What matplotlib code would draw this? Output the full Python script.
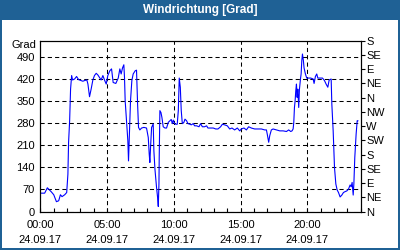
import matplotlib
import matplotlib.pyplot as plt
from matplotlib.patches import Rectangle

matplotlib.use("Agg")

# wind direction readings, hours since 00:00 on 24.09.17
hours = [
    0.0, 0.32, 0.52, 0.82, 1.0, 1.2, 1.37, 1.5, 1.62, 1.82, 1.97, 2.06, 2.11, 2.19,
    2.26, 2.34, 2.41, 2.56, 2.71, 2.86, 3.18, 3.3, 3.48, 3.56, 3.68, 3.8, 3.93,
    4.05, 4.18, 4.3, 4.43, 4.55, 4.68, 4.8, 4.93, 5.05, 5.2, 5.33, 5.45, 5.65,
    5.83, 5.95, 6.05, 6.15, 6.25, 6.3, 6.35, 6.45, 6.55, 6.6, 6.65, 6.75, 6.85,
    6.95, 7.1, 7.2, 7.28, 7.35, 7.45, 7.58, 7.75, 7.95, 8.08, 8.15, 8.2, 8.25,
    8.33, 8.45, 8.5, 8.58, 8.7, 8.78, 8.83, 8.88, 8.9, 8.95, 9.03, 9.1, 9.2,
    9.33, 9.45, 9.58, 9.7, 9.8, 9.88, 9.95, 10.05, 10.15, 10.25, 10.33, 10.4,
    10.48, 10.55, 10.63, 10.75, 10.83, 10.95, 11.05, 11.2, 11.3, 11.45, 11.55,
    11.7, 11.88, 12.0, 12.13, 12.3, 12.45, 12.55, 12.75, 12.95, 13.13, 13.3, 13.5,
    13.63, 13.8, 14.0, 14.18, 14.35, 14.55, 14.75, 14.93, 15.05, 15.25, 15.43,
    15.6, 15.8, 16.05, 16.3, 16.55, 16.8, 16.93, 17.0, 17.1, 17.18, 17.3, 17.43,
    17.68, 17.93, 18.18, 18.43, 18.6, 18.75, 18.85, 18.93, 18.98, 19.03, 19.08,
    19.13, 19.18, 19.23, 19.28, 19.35, 19.4, 19.48, 19.53, 19.58, 19.63, 19.7,
    19.75, 19.85, 19.95, 20.1, 20.25, 20.43, 20.5, 20.6, 20.7, 20.78, 20.95, 21.13,
    21.28, 21.4, 21.53, 21.63, 21.78, 21.83, 21.93, 22.03, 22.13, 22.23, 22.33,
    22.45, 22.58, 22.7, 22.83, 22.95, 23.08, 23.2, 23.28, 23.35, 23.43, 23.48,
    23.55, 23.65, 23.73, 23.78,
]
degrees = [
    58, 58, 75, 62, 53, 31, 34, 53, 47, 53, 60, 118, 218, 287,
    387, 430, 416, 419, 427, 417, 412, 414, 416, 403, 363, 387, 416,
    430, 437, 432, 424, 416, 430, 416, 403, 430, 445, 451, 408, 405,
    422, 451, 435, 454, 464, 424, 350, 287, 224, 160, 224, 350, 414,
    435, 445, 447, 340, 266, 258, 264, 266, 264, 234, 182, 155, 203,
    266, 277, 192, 134, 76, 44, 16, 87, 171, 319, 313, 298, 268,
    264, 264, 282, 287, 291, 278, 289, 278, 276, 276, 319, 422,
    393, 319, 278, 282, 292, 287, 278, 276, 274, 278, 271,
    271, 268, 278, 268, 268, 271, 264, 264, 264, 261, 261, 268,
    276, 274, 271, 261, 264, 258, 264, 255, 261, 264, 258,
    268, 264, 261, 261, 261, 258, 258, 243, 219, 240, 258, 261,
    258, 255, 255, 253, 258, 253, 255, 261, 282, 329, 350,
    382, 403, 361, 387, 329, 385, 419, 435, 477, 498, 477,
    454, 435, 422, 422, 422, 419, 405, 427, 435, 422, 422, 422,
    414, 403, 393, 416, 419, 340, 255, 139, 87, 68, 60,
    46, 52, 60, 63, 65, 71, 84, 78, 92, 52, 87,
    171, 245, 287, 287,
]

x_ticks = [0, 5, 10, 15, 20]
x_labels = ["00:00\n24.09.17", "05:00\n24.09.17", "10:00\n24.09.17",
            "15:00\n24.09.17", "20:00\n24.09.17"]
y_ticks = [0, 70, 140, 210, 280, 350, 420, 490]
compass_ticks = [0, 45, 90, 135, 180, 225, 270, 315, 360, 405, 450, 495, 540]
compass_labels = ["N", "NE", "E", "SE", "S", "SW", "W", "NW", "N", "NE", "E", "SE", "S"]

frame_blue = "#1f6195"
plt.rcParams["font.family"] = "Liberation Sans"
plt.rcParams["font.size"] = 8

fig = plt.figure(figsize=(4, 2.5), dpi=100)
fig.patch.set_facecolor("white")

# title bar and frame
fig.patches.append(Rectangle((0, 0.92), 1, 0.08, transform=fig.transFigure,
                             facecolor=frame_blue, edgecolor="none", zorder=0))
for r in [(0, 0, 0.005, 1), (0.995, 0, 0.005, 1), (0, 0, 1, 0.008)]:
    fig.patches.append(Rectangle(r[:2], r[2], r[3], transform=fig.transFigure,
                                 facecolor=frame_blue, edgecolor="none", zorder=0))
fig.text(0.5, 0.958, "Windrichtung [Grad]", color="white", fontweight="bold",
         fontsize=8.5, ha="center", va="center")

ax = fig.add_axes([0.101, 0.154, 0.801, 0.683])
ax.plot(hours, degrees, color="#0000ff", lw=0.8)
ax.set_xlim(0, 24)
ax.set_ylim(0, 540)

ax.set_xticks(x_ticks)
ax.set_xticklabels(x_labels, linespacing=1.6)
ax.set_xticks(range(0, 25), minor=True)
ax.tick_params(axis="x", which="both", direction="in", length=3, width=0.8, pad=6)
ax.set_yticks(y_ticks)
ax.tick_params(axis="y", length=0, pad=4)
ax.grid(True, color="black", lw=0.75, linestyle=(0, (4, 3)))
for s in ax.spines.values():
    s.set_linewidth(0.8)
ax.text(-0.012, 528, "Grad", transform=ax.get_yaxis_transform(),
        ha="right", va="center")

ax2 = ax.twinx()
ax2.set_ylim(0, 540)
ax2.set_yticks(compass_ticks)
ax2.set_yticklabels(compass_labels)
ax2.tick_params(axis="y", direction="out", length=3, width=0.8, pad=1)

fig.savefig("out.png", dpi=100)
